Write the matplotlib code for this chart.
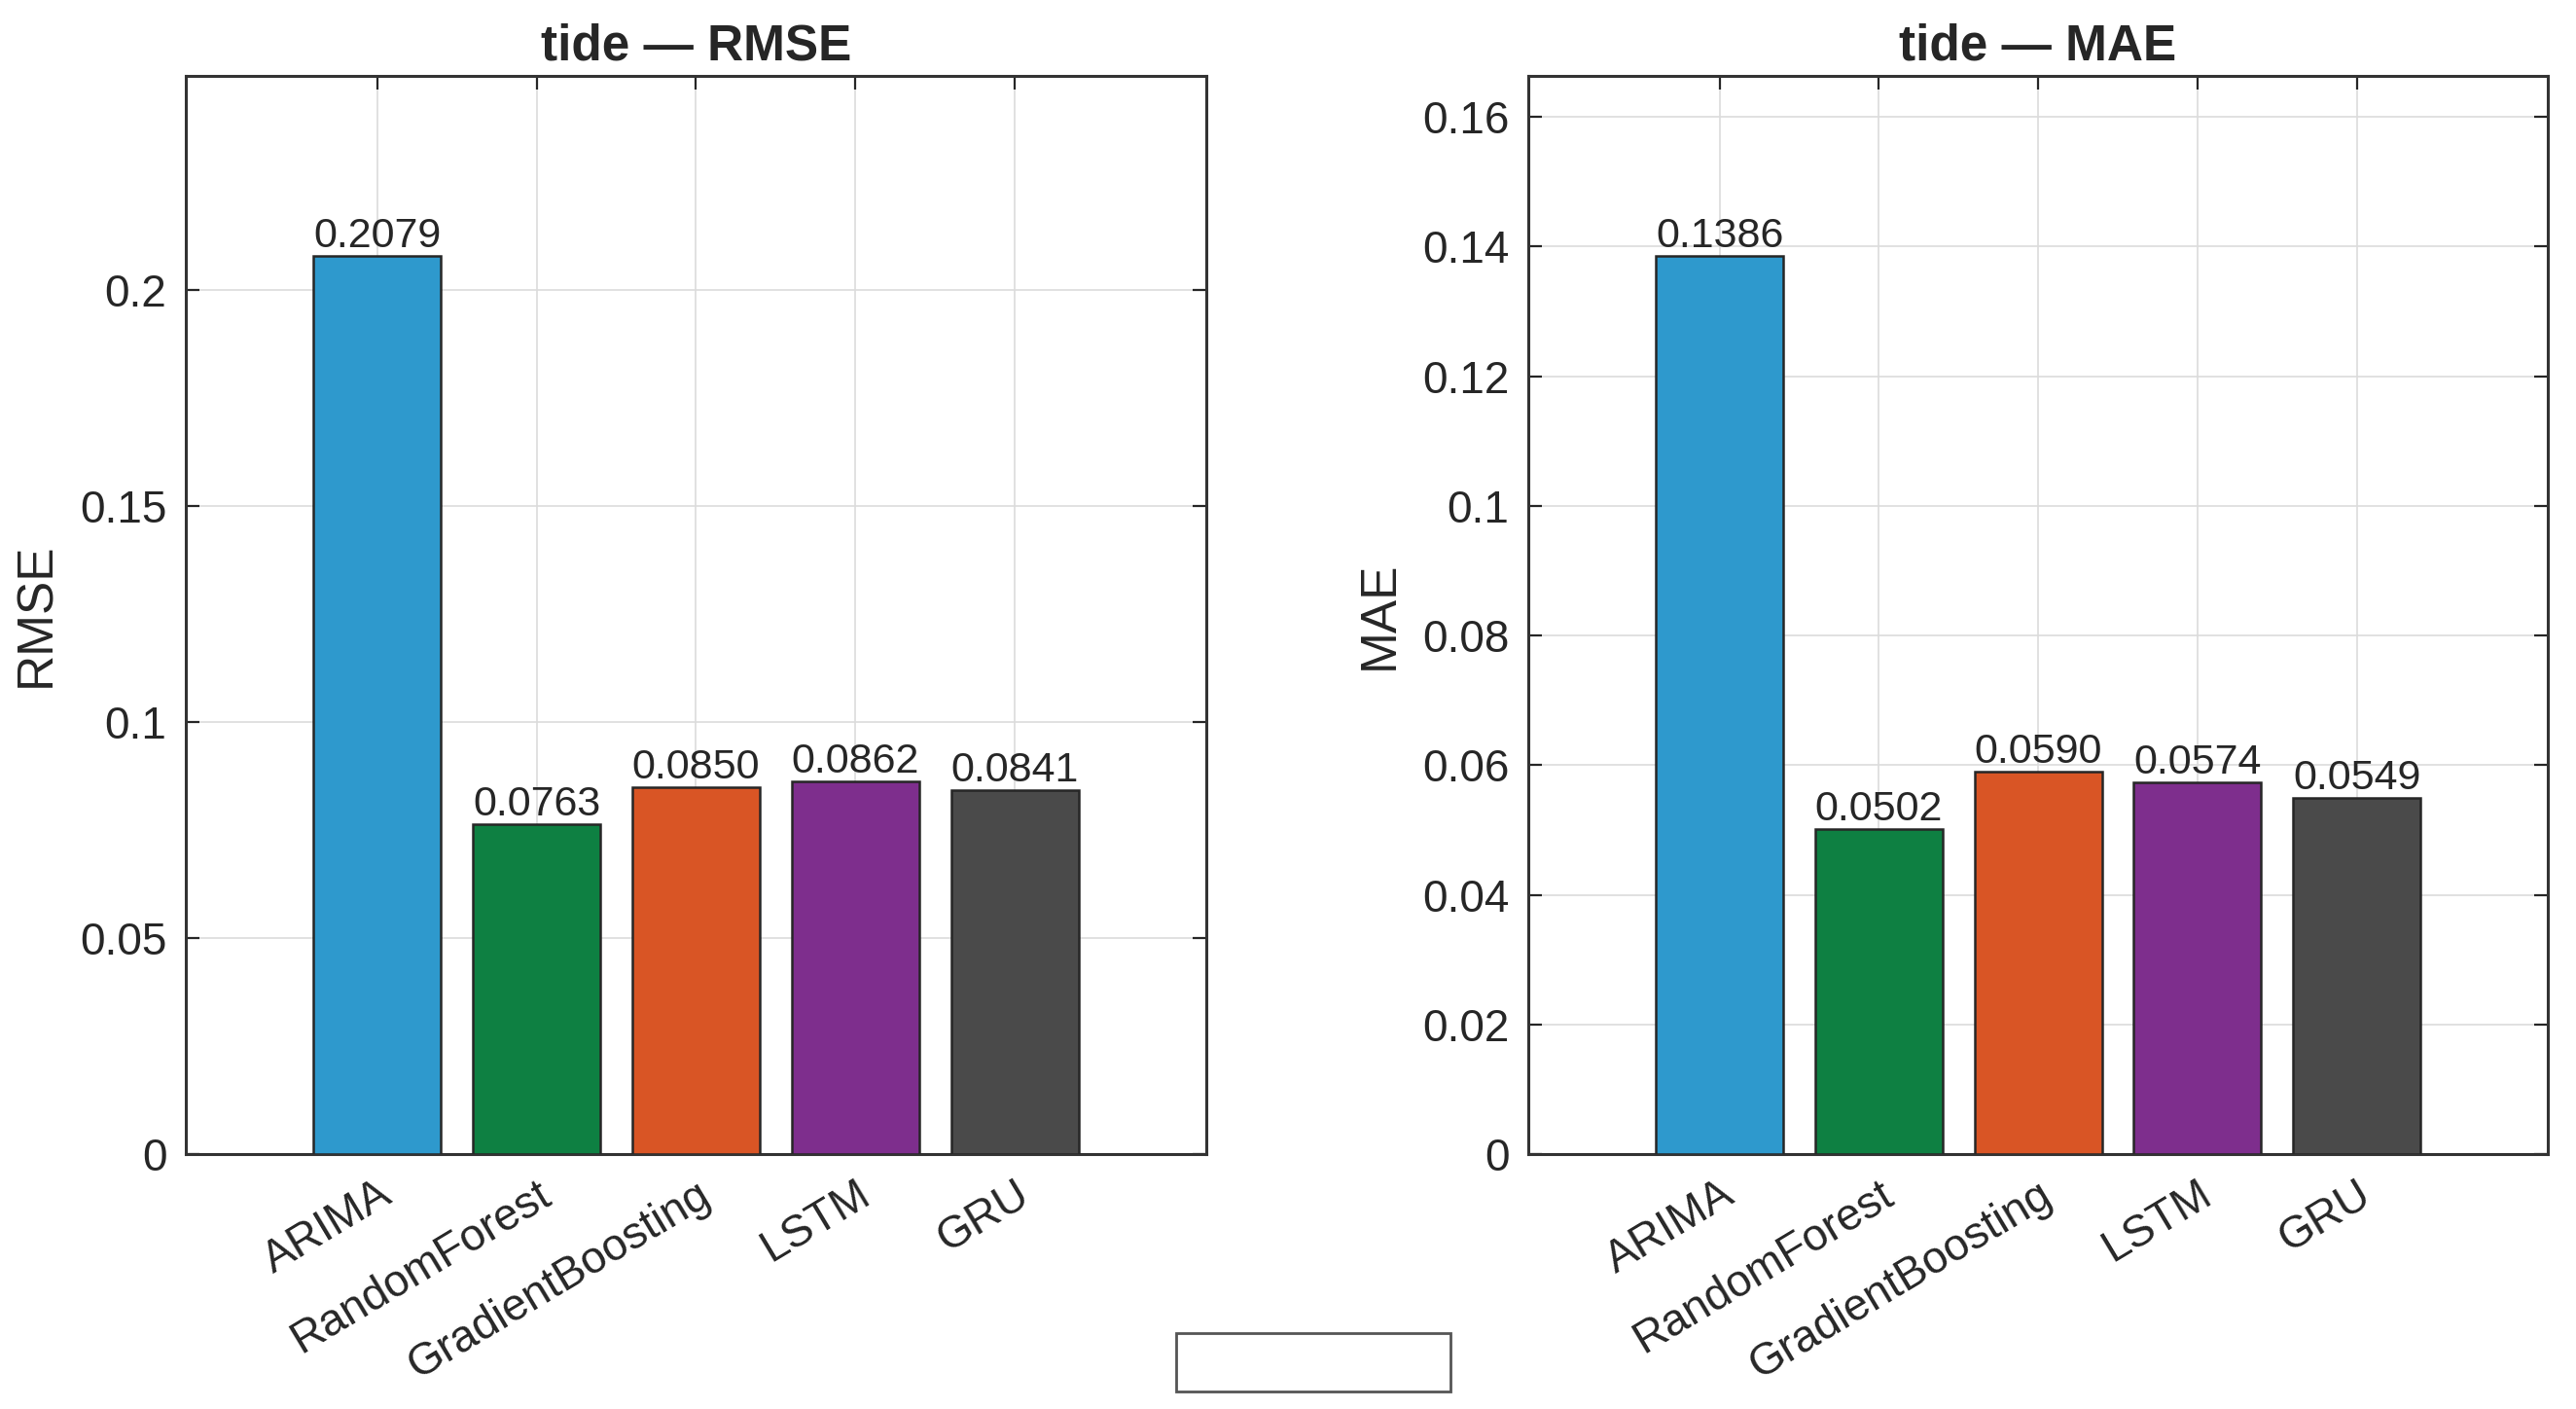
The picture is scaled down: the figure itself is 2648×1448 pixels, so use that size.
import numpy as np
import matplotlib
matplotlib.use('Agg')
import matplotlib.pyplot as plt
from matplotlib.patches import Rectangle
from matplotlib.ticker import FuncFormatter

# 数据
models = ['ARIMA', 'RandomForest', 'GradientBoosting', 'LSTM', 'GRU']
rmse = [0.2079, 0.0763, 0.0850, 0.0862, 0.0841]
mae = [0.1386, 0.0502, 0.0590, 0.0574, 0.0549]
rmse_ticks = [0, 0.05, 0.1, 0.15, 0.2]
mae_ticks = [0, 0.02, 0.04, 0.06, 0.08, 0.1, 0.12, 0.14, 0.16]
bar_colors = ['#2E99CD', '#0E8042', '#D95525', '#7E2E8D', '#4A4A4A']

plt.rcParams['font.family'] = ['Liberation Sans', 'DejaVu Sans']
AX_COLOR = '#262626'

fig = plt.figure(figsize=(13.24, 7.24), dpi=200)


def draw_panel(rect, values, ticks, title, ylabel):
    ax = fig.add_axes(rect)
    x = np.arange(1, len(values) + 1)
    bars = ax.bar(x, values, width=0.8, color=bar_colors,
                  edgecolor=AX_COLOR, linewidth=0.9, zorder=3)
    for b, v in zip(bars, values):
        ax.text(b.get_x() + b.get_width() / 2, v, f'{v:.4f}',
                ha='center', va='bottom', fontsize=15.5, color=AX_COLOR, zorder=4)
    ax.set_xlim(-0.2, 6.2)
    ax.set_ylim(0, max(values) * 1.2)
    ax.set_xticks(x)
    ax.set_xticklabels(models, rotation=31, ha='right', rotation_mode='anchor')
    ax.set_yticks(ticks)
    ax.yaxis.set_major_formatter(FuncFormatter(lambda v, p: f'{v:g}'))
    ax.tick_params(direction='in', length=5, width=0.8, colors=AX_COLOR,
                   labelsize=16.5, top=True, right=True, pad=7)
    ax.grid(True, color='#dcdcdc', linewidth=0.6, zorder=0)
    for s in ax.spines.values():
        s.set_color('#333333')
        s.set_linewidth(1.1)
    ax.set_title(title, fontsize=18.5, fontweight='bold', color=AX_COLOR, pad=6)
    ax.set_ylabel(ylabel, fontsize=18.5, color=AX_COLOR, labelpad=7)
    return ax


draw_panel([0.0721, 0.181, 0.3962, 0.765], rmse, rmse_ticks, 'tide — RMSE', 'RMSE')
draw_panel([0.5933, 0.181, 0.3958, 0.765], mae, mae_ticks, 'tide — MAE', 'MAE')

# 空图例框
fig.add_artist(Rectangle((1209 / 2648, 1 - 1430 / 1448), 282 / 2648, 60 / 1448,
                         transform=fig.transFigure, facecolor='white',
                         edgecolor='#555555', linewidth=1.0))

fig.savefig('out.png', dpi=200)
